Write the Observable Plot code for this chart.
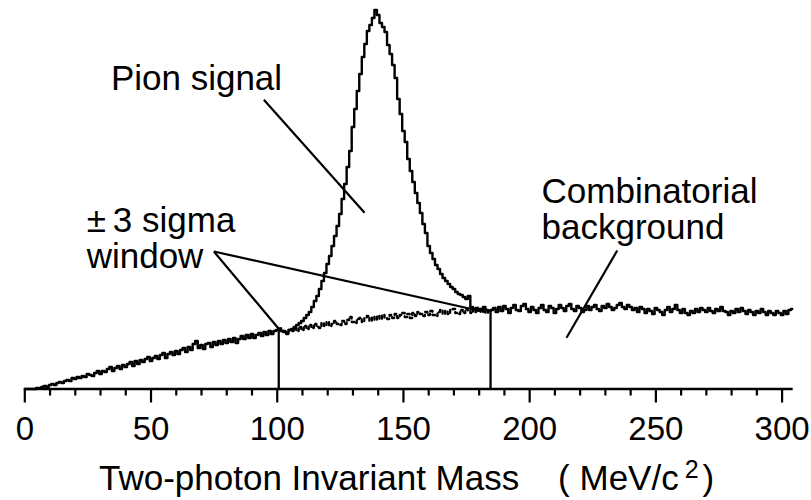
<!DOCTYPE html>
<html>
<head>
<meta charset="utf-8">
<script src="https://cdn.jsdelivr.net/npm/d3@7"></script>
<script src="https://cdn.jsdelivr.net/npm/@observablehq/plot@0.6"></script>
<style>
  html, body { margin: 0; padding: 0; background: #fff; }
  #wrap { position: relative; width: 811px; height: 500px; overflow: hidden; font-family: "Liberation Sans", Arial, sans-serif; }
  #xtitle { position: absolute; left: 99px; top: 458px; font-size: 35px; line-height: 40px; white-space: pre; color: #000; }
  #xtitle .sup { font-size: 25px; line-height: 0; position: relative; top: -12px; margin-left: 6px; margin-right: 4px; }
</style>
</head>
<body>
<div id="wrap">
  <div id="chart"></div>
  <div id="xtitle">Two-photon Invariant Mass    ( MeV/c<span class="sup">2</span>)</div>
</div>
<script>
// Two-photon invariant mass spectrum, 1 MeV/c^2 bins starting at 0 (counts, arbitrary units)
const spectrumCounts = [
  0,0,0,0,0,1,1,2,3,2, 4,5,4,6,7,6,8,9,8,11,
  10,12,11,13,12,15,14,13,16,18, 15,18,17,20,22,18,21,23,20,24,
  22,25,27,23,28,25,29,27,30,32, 28,31,33,30,34,36,31,35,37,34,
  38,35,39,41,37,42,39,45,48,41, 44,40,45,46,42,47,44,48,45,49,
  46,50,47,51,46,50,53,50,54,51, 55,51,54,56,53,57,54,58,55,58,
  59,60,58,57,56,59,60,62,64,66, 68,71,74,77,82,88,93,100,108,116,
  125,133,143,153,163,175,190,205,222,238, 262,280,298,315,332,345,358,364,371,379,
  374,366,362,357,344,335,324,311,290,275, 258,247,230,218,207,196,186,176,165,156,
  143,136,130,124,120,115,111,108,105,102, 100,97,95,94,92,90,93,82,80,81,
  79,80,82,79,78,79,
  81,77,82,78,83,80,76,81,84,79,
  78,83,85,80,77,82,79,76,81,84,
  79,77,83,81,76,80,84,81,78,83,
  85,80,78,83,81,77,79,83,79,82,
  84,80,78,83,81,85,82,79,81,84,
  86,82,80,84,82,79,81,77,82,80,
  76,80,78,75,81,79,77,74,79,82,
  77,80,84,79,76,80,76,74,78,76,
  80,77,81,79,77,81,78,76,80,78,
  82,78,77,74,78,76,80,77,81,78,
  75,79,77,74,78,76,80,77,74,78,
  76,74,78,76,74,78,75,79,80
];
// Estimated combinatorial background under the peak, 1 MeV bins from 100 to 185
const backgroundStart = 100;
const backgroundCounts = [
  59,61,57,58,55,59,58,61,58,62, 59,63,60,64,61,65,62,61,66,63,
  67,63,65,68,65,64,68,65,69,72, 67,66,70,71,67,71,73,68,72,69,
  73,70,74,71,70,74,71,75,71,74, 76,72,75,71,76,73,77,75,73,77,
  74,78,74,73,77,79,75,78,75,79, 80,76,75,79,76,80,78,76,80,77,
  81,77,80,76,78,79
];
// ±3 sigma window edges (MeV/c^2) and the background level where each edge line stops
const windowEdges = [100.6, 184.5];
const windowTops = [61, 78];

// x-axis ticks
const majorTicks = [0, 50, 100, 150, 200, 250, 300];
const minorTicks = [10, 20, 30, 40, 60, 70, 80, 90, 110, 120, 130, 140, 160, 170, 180, 190, 210, 220, 230, 240, 260, 270, 280, 290];

// Annotation labels (anchored at top-left) and their leader lines, in data units
const labelTexts = ["Pion signal", "±\u20093 sigma\nwindow", "Combinatorial\nbackground"];
const labelX = [34.1, 24.5, 204.7];
const labelY = [325, 183.5, 212.5];
const leaderX1 = [94.7, 74.9, 74.9, 234.7];
const leaderY1 = [289.2, 137.5, 137.5, 138.5];
const leaderX2 = [134.6, 100.5, 182.3, 214.6];
const leaderY2 = [176.2, 60.5, 77.0, 51.2];

const spectrum = spectrumCounts.map((c, i) => ({mass: i, counts: c}));
const background = backgroundCounts.map((c, i) => ({mass: backgroundStart + i, counts: c}));
const windowData = windowEdges.map((m, i) => ({mass: m, top: windowTops[i]}));
const labels = labelTexts.map((t, i) => ({text: t, x: labelX[i], y: labelY[i]}));
const leaders = leaderX1.map((x, i) => ({x1: x, y1: leaderY1[i], x2: leaderX2[i], y2: leaderY2[i]}));

const chart = Plot.plot({
  width: 811,
  height: 458,
  marginLeft: 24.3,
  marginRight: 18.3,
  marginTop: 8.5,
  marginBottom: 69.5,
  style: {fontFamily: "'Liberation Sans', Arial, sans-serif", color: "#000", background: "#fff"},
  x: {domain: [0, 304.4]},
  y: {domain: [0, 380], axis: null},
  marks: [
    Plot.axisX({ticks: minorTicks, tickSize: 7, tickFormat: () => "", strokeWidth: 2.2, label: null}),
    Plot.axisX({ticks: majorTicks, tickSize: 14, tickPadding: 13.5, fontSize: 33, strokeWidth: 2.2, tickFormat: d => String(d), label: null}),
    Plot.ruleY([0], {stroke: "#000", strokeWidth: 2.5}),
    Plot.line(background, {x: "mass", y: "counts", curve: "step", stroke: "#000", strokeWidth: 2.3, strokeDasharray: "3,3"}),
    Plot.line(spectrum, {x: "mass", y: "counts", curve: "step", stroke: "#000", strokeWidth: 2.4, strokeLinejoin: "round"}),
    Plot.ruleX(windowData, {x: "mass", y1: 0, y2: "top", stroke: "#000", strokeWidth: 2.3}),
    Plot.link(leaders, {x1: "x1", y1: "y1", x2: "x2", y2: "y2", stroke: "#000", strokeWidth: 2.2}),
    Plot.text(labels, {x: "x", y: "y", text: "text", textAnchor: "start", lineAnchor: "top", lineHeight: 1.05, fontSize: 35, fill: "#000"})
  ]
});
document.getElementById("chart").appendChild(chart);
</script>
</body>
</html>
